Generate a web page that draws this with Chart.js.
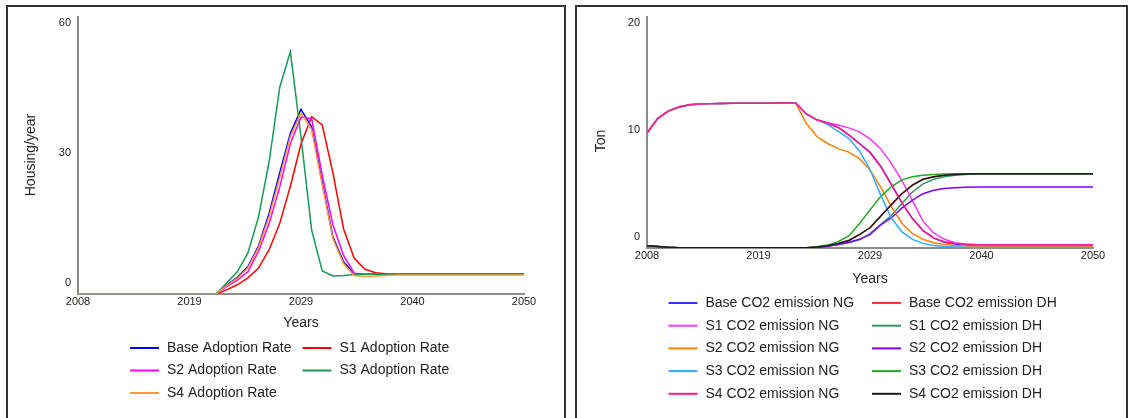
<!DOCTYPE html>
<html>
<head>
<meta charset="utf-8">
<script src="https://cdn.jsdelivr.net/npm/chart.js@4/dist/chart.umd.min.js"></script>
<style>
  body { margin: 0; background: #fff; }
  .panel { position: absolute; top: 5px; height: 430px; border: 2px solid #333; background: #fff; }
  #leftPanel { left: 6px; width: 556px; }
  #rightPanel { left: 575px; width: 549px; }
  canvas { display: block; }
</style>
</head>
<body>
<div class="panel" id="leftPanel"><canvas id="adoption" width="556" height="430"></canvas></div>
<div class="panel" id="rightPanel"><canvas id="emission" width="549" height="430"></canvas></div>
<script>
// years on the x axis
const years = [2008, 2009, 2010, 2011, 2012, 2013, 2014, 2015, 2016, 2017, 2018, 2019, 2020, 2021,
  2022, 2023, 2024, 2025, 2026, 2027, 2028, 2029, 2030, 2031, 2032, 2033, 2034, 2035, 2036,
  2037, 2038, 2039, 2040, 2041, 2042, 2043, 2044, 2045, 2046, 2047, 2048, 2049, 2050];
const xTickValues = [2008, 2018.5, 2029, 2039.5, 2050];
const xTickLabels = ['2008', '2019', '2029', '2040', '2050'];
const adoptionTicks = [0, 30, 60];
const emissionTicks = [0, 10, 20];

// Housing/year, 2008-2050
const noAdoptionYet = [0, 0, 0, 0, 0, 0, 0, 0, 0, 0, 0, 0, 0, 0]; // 2008-2021
const baseAdoption = noAdoptionYet.concat([1.9, 3.6, 5.9, 10.4, 17.5, 26.3, 34.8, 40.0, 36.2, 24.2, 12.4, 7.0, 4.4,
  4.3, 4.3, 4.3, 4.3, 4.3, 4.3, 4.3, 4.3, 4.3, 4.3, 4.3, 4.3, 4.3, 4.3, 4.3, 4.3]);
const s1Adoption = noAdoptionYet.concat([0.9, 2.0, 3.5, 5.6, 9.6, 15.3, 23.4, 32.5, 38.4, 36.6, 26.3, 14.2, 7.8,
  5.4, 4.6, 4.4, 4.3, 4.3, 4.3, 4.3, 4.3, 4.3, 4.3, 4.3, 4.3, 4.3, 4.3, 4.3, 4.3]);
const s2Adoption = noAdoptionYet.concat([1.6, 3.0, 4.8, 9.2, 15.3, 23.2, 32.6, 38.3, 38.0, 25.8, 15.0, 8.4, 4.5,
  4.3, 4.3, 4.3, 4.3, 4.3, 4.3, 4.3, 4.3, 4.3, 4.3, 4.3, 4.3, 4.3, 4.3, 4.3, 4.3]);
const s3Adoption = noAdoptionYet.concat([2.4, 4.8, 8.9, 16.7, 28.7, 44.8, 52.5, 34.0, 13.9, 5.0, 3.9, 4.0, 4.2,
  4.3, 4.3, 4.3, 4.3, 4.3, 4.3, 4.3, 4.3, 4.3, 4.3, 4.3, 4.3, 4.3, 4.3, 4.3, 4.3]);
const s4Adoption = noAdoptionYet.concat([1.8, 3.4, 5.6, 10.0, 16.8, 25.2, 34.1, 39.2, 35.6, 23.6, 12.0, 6.6, 4.0,
  3.8, 3.9, 4.0, 4.1, 4.1, 4.1, 4.1, 4.1, 4.1, 4.1, 4.1, 4.1, 4.1, 4.1, 4.1, 4.1]);

// Ton, 2008-2050
const ngUntil2022 = [9.95, 11.2, 11.85, 12.2, 12.4, 12.47, 12.5, 12.52, 12.53, 12.53, 12.54, 12.54, 12.55, 12.55, 12.55];
const baseNG = ngUntil2022.concat([11.6, 11.1, 10.8, 10.45, 9.8, 9.05, 8.3, 7.1, 5.55, 3.9, 2.55, 1.5, 0.85, 0.5,
  0.35, 0.25, 0.18, 0.15, 0.13, 0.12, 0.12, 0.12, 0.12, 0.12, 0.12, 0.12, 0.12, 0.12]);
const s1NG = ngUntil2022.concat([11.6, 11.1, 10.85, 10.65, 10.4, 10.05, 9.45, 8.6, 7.35, 5.85, 4.1, 2.3, 1.3, 0.75,
  0.45, 0.35, 0.3, 0.28, 0.28, 0.28, 0.28, 0.28, 0.28, 0.28, 0.28, 0.28, 0.28, 0.28]);
const s2NG = ngUntil2022.concat([10.8, 9.65, 9.05, 8.6, 8.3, 7.75, 6.75, 5.3, 3.6, 2.15, 1.25, 0.75, 0.45, 0.3,
  0.22, 0.18, 0.16, 0.15, 0.15, 0.15, 0.15, 0.15, 0.15, 0.15, 0.15, 0.15, 0.15, 0.15]);
const s3NG = ngUntil2022.concat([11.6, 11.1, 10.7, 10.1, 9.5, 8.4, 6.8, 4.6, 2.6, 1.4, 0.75, 0.4, 0.22, 0.12,
  0.08, 0.06, 0.05, 0.05, 0.05, 0.05, 0.05, 0.05, 0.05, 0.05, 0.05, 0.05, 0.05, 0.05]);
const s4NG = ngUntil2022.concat([11.6, 11.1, 10.8, 10.45, 9.8, 9.05, 8.25, 7.05, 5.5, 3.9, 2.55, 1.5, 0.88, 0.55,
  0.4, 0.32, 0.28, 0.25, 0.25, 0.25, 0.25, 0.25, 0.25, 0.25, 0.25, 0.25, 0.25, 0.25]);

const dhUntil2023 = [0.2, 0.12, 0.06, 0.03, 0.02, 0.02, 0.02, 0.02, 0.02, 0.02, 0.02, 0.02, 0.02, 0.02, 0.02, 0.03];
const baseDH = dhUntil2023.concat([0.08, 0.2, 0.4, 0.65, 1.15, 1.75, 2.75, 3.75, 4.7, 5.45, 5.95, 6.17, 6.3,
  6.36, 6.4, 6.42, 6.42, 6.42, 6.42, 6.42, 6.42, 6.42, 6.42, 6.42, 6.42, 6.42, 6.42]);
const s1DH = dhUntil2023.concat([0.05, 0.15, 0.3, 0.45, 0.7, 1.25, 2.0, 2.8, 3.85, 4.85, 5.55, 5.95, 6.17,
  6.3, 6.36, 6.4, 6.4, 6.4, 6.4, 6.4, 6.4, 6.4, 6.4, 6.4, 6.4, 6.4, 6.4]);
const s2DH = dhUntil2023.concat([0.05, 0.15, 0.3, 0.5, 0.75, 1.15, 2.0, 2.6, 3.45, 4.15, 4.7, 5.0, 5.15,
  5.22, 5.26, 5.28, 5.28, 5.28, 5.28, 5.28, 5.28, 5.28, 5.28, 5.28, 5.28, 5.28, 5.28]);
const s3DH = dhUntil2023.concat([0.1, 0.25, 0.55, 1.05, 2.1, 3.3, 4.45, 5.3, 5.9, 6.17, 6.3, 6.36, 6.4,
  6.42, 6.43, 6.43, 6.43, 6.43, 6.43, 6.43, 6.43, 6.43, 6.43, 6.43, 6.43, 6.43, 6.43]);
const s4DH = dhUntil2023.concat([0.08, 0.2, 0.4, 0.65, 1.15, 1.75, 2.75, 3.75, 4.7, 5.45, 5.95, 6.17, 6.3,
  6.36, 6.4, 6.42, 6.42, 6.42, 6.42, 6.42, 6.42, 6.42, 6.42, 6.42, 6.42, 6.42, 6.42]);

Chart.defaults.font.family = '"Liberation Sans", Arial, sans-serif';
Chart.defaults.color = '#222';

function toPoints(values) {
  return values.map((v, i) => ({ x: years[i], y: v }));
}

function series(label, values, color, order) {
  return { label: label, data: toPoints(values), borderColor: color, backgroundColor: color,
    borderWidth: 1.5, pointRadius: 0, tension: 0, order: order };
}

// y labels, axis titles and the two-column legend
const panelDecor = {
  id: 'panelDecor',
  afterDraw(chart, args, opts) {
    const ctx = chart.ctx;
    const area = chart.chartArea;
    const yScale = chart.scales.y;
    ctx.save();
    ctx.fillStyle = '#222';
    ctx.font = '11px "Liberation Sans", Arial, sans-serif';
    ctx.textAlign = 'right';
    ctx.textBaseline = 'middle';
    opts.yTicks.forEach(v => {
      const shift = -11 + 17 * (v - yScale.min) / (yScale.max - yScale.min);
      ctx.fillText(String(v), area.left - 7, yScale.getPixelForValue(v) + shift);
    });

    ctx.font = '14px "Liberation Sans", Arial, sans-serif';
    ctx.textAlign = 'center';
    ctx.fillText(opts.xTitle, (area.left + area.right) / 2, area.bottom + opts.xTitleGap);
    ctx.save();
    ctx.translate(opts.yTitlePos[0], opts.yTitlePos[1]);
    ctx.rotate(-Math.PI / 2);
    ctx.fillText(opts.yTitle, 0, 0);
    ctx.restore();

    ctx.textAlign = 'left';
    chart.data.datasets.forEach((ds, i) => {
      const x = opts.legendX[i % 2];
      const y = opts.legendTop + Math.floor(i / 2) * opts.legendRowGap;
      ctx.strokeStyle = ds.borderColor;
      ctx.lineWidth = 2;
      ctx.beginPath();
      ctx.moveTo(x, y);
      ctx.lineTo(x + 29, y);
      ctx.stroke();
      ctx.fillText(ds.label, x + 37, y);
    });
    ctx.restore();
  }
};

function makeOptions(yMax, padBottom, padRight, decor) {
  return {
    responsive: false,
    animation: false,
    devicePixelRatio: 1,
    layout: { padding: { top: 10, left: 0, right: padRight, bottom: padBottom } },
    plugins: { legend: { display: false }, tooltip: { enabled: false }, panelDecor: decor },
    scales: {
      x: {
        type: 'linear', min: 2008, max: 2050,
        afterBuildTicks: scale => { scale.ticks = xTickValues.map(v => ({ value: v })); },
        afterFit: scale => { scale.height = 20; },
        grid: { display: false, drawTicks: false },
        border: { color: '#8c8c8c', width: 2 },
        ticks: { autoSkip: false, maxRotation: 0, padding: 1, font: { size: 11 },
          callback: (v, i) => xTickLabels[i] }
      },
      y: {
        min: 0, max: yMax,
        afterFit: scale => { scale.width = 70; },
        grid: { display: false, drawTicks: false },
        border: { color: '#8c8c8c', width: 2 },
        ticks: { display: false }
      }
    }
  };
}

new Chart(document.getElementById('adoption'), {
  type: 'line',
  data: {
    datasets: [
      series('Base Adoption Rate', baseAdoption, '#0000ff', 4),
      series('S1 Adoption Rate', s1Adoption, '#ff0000', 3),
      series('S2 Adoption Rate', s2Adoption, '#ff00ff', 2),
      series('S3 Adoption Rate', s3Adoption, '#139a55', 1),
      series('S4 Adoption Rate', s4Adoption, '#ff9933', 0)
    ]
  },
  options: makeOptions(60, 123, 40, {
    yTicks: adoptionTicks, xTitle: 'Years', xTitleGap: 29,
    yTitle: 'Housing/year', yTitlePos: [23, 148],
    legendX: [122, 294.5], legendTop: 341, legendRowGap: 22.5
  }),
  plugins: [panelDecor]
});

new Chart(document.getElementById('emission'), {
  type: 'line',
  data: {
    datasets: [
      series('Base CO2 emission NG', baseNG, '#3333ff', 8),
      series('Base CO2 emission DH', baseDH, '#ff3333', 9),
      series('S1 CO2 emission NG', s1NG, '#ff33ff', 6),
      series('S1 CO2 emission DH', s1DH, '#2e9960', 7),
      series('S2 CO2 emission NG', s2NG, '#ff8000', 4),
      series('S2 CO2 emission DH', s2DH, '#8000ff', 5),
      series('S3 CO2 emission NG', s3NG, '#33aaff', 2),
      series('S3 CO2 emission DH', s3DH, '#22aa22', 3),
      series('S4 CO2 emission NG', s4NG, '#ff1a8c', 0),
      series('S4 CO2 emission DH', s4DH, '#1a1a1a', 1)
    ]
  },
  options: makeOptions(20, 169, 33, {
    yTicks: emissionTicks, xTitle: 'Years', xTitleGap: 31,
    yTitle: 'Ton', yTitlePos: [24, 134],
    legendX: [91.5, 295], legendTop: 296, legendRowGap: 22.7
  }),
  plugins: [panelDecor]
});
</script>
</body>
</html>
